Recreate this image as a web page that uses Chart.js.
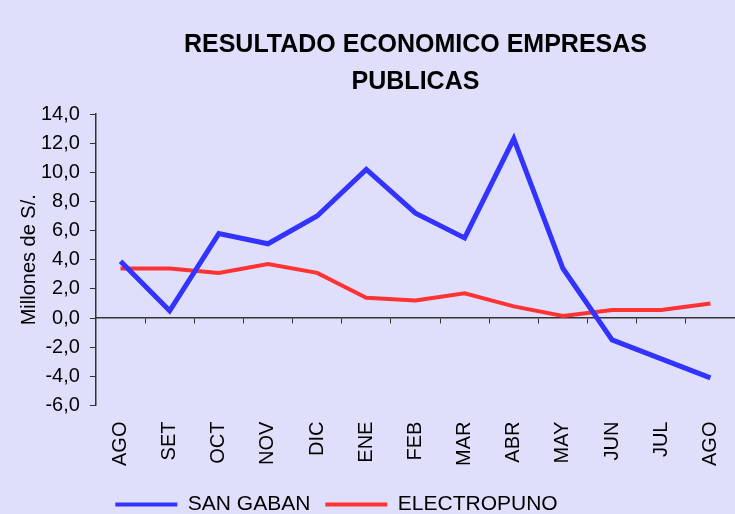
<!DOCTYPE html>
<html>
<head>
<meta charset="utf-8">
<script src="https://cdn.jsdelivr.net/npm/chart.js@4"></script>
<style>
	html, body { margin: 0; padding: 0; background: #dfdffb; overflow: hidden; }
	#wrap { width: 735px; height: 514px; }
</style>
</head>
<body>
<div id="wrap"><canvas id="canvasresultado" width="735" height="514"></canvas></div>
<script>

var meses = ['AGO', 'SET', 'OCT', 'NOV', 'DIC', 'ENE', 'FEB', 'MAR', 'ABR', 'MAY', 'JUN', 'JUL', 'AGO'];
var sangaban = [3.9, 0.5, 5.8, 5.1, 7.0, 10.2, 7.2, 5.5, 12.3, 3.4, -1.5, -2.8, -4.1];
var electropuno = [3.4, 3.4, 3.1, 3.7, 3.1, 1.4, 1.2, 1.7, 0.8, 0.15, 0.55, 0.55, 1.0];
var yticks = [14, 12, 10, 8, 6, 4, 2, 0, -2, -4, -6];

// corre la leyenda a la izquierda y abajo como en el original
var mover_leyenda = {
	id: 'mover_leyenda',
	afterLayout: function(chart){
		var l = chart.legend;
		if (l) {
			l.right = l.right - 62;
			l.top = l.top + 11;
			l.bottom = l.bottom + 11;
		}
	}
};

function sin_margen(scale){
	scale.paddingLeft = 0;
	scale.paddingRight = 0;
}

function init_chart_resultado(){

	if( typeof (Chart) === 'undefined'){ return; }

	var chart_line_settings = {
		type: 'line',
		data: {
			labels: meses,
			datasets: [{
				label: 'SAN GABAN',
				data: sangaban,
				borderColor: '#3333ff',
				backgroundColor: '#3333ff',
				borderWidth: 5,
				pointRadius: 0,
				tension: 0
			}, {
				label: 'ELECTROPUNO',
				data: electropuno,
				borderColor: '#ff3333',
				backgroundColor: '#ff3333',
				borderWidth: 4,
				pointRadius: 0,
				tension: 0
			}]
		},
		options: {
			responsive: false,
			animation: false,
			layout: { padding: { left: 0, right: 0, top: 0, bottom: 0 } },
			plugins: {
				title: {
					display: true,
					text: ['RESULTADO ECONOMICO EMPRESAS', 'PUBLICAS'],
					fullSize: false,
					color: '#000',
					font: { family: "'Liberation Sans', Arial, sans-serif", size: 25, weight: 'bold', lineHeight: 1.5 },
					padding: { top: 26, bottom: 13 }
				},
				legend: {
					position: 'bottom',
					labels: {
						boxWidth: 62,
						boxHeight: 4,
						padding: 15,
						color: '#000',
						font: { family: "'Liberation Sans Narrow', 'Liberation Sans', Arial, sans-serif", size: 21 },
						generateLabels: function(chart){
							var items = Chart.defaults.plugins.legend.labels.generateLabels(chart);
							items.forEach(function(it){ it.lineWidth = 0; });
							return items;
						}
					}
				},
				tooltip: { enabled: false }
			},
			scales: {
				x: {
					type: 'category',
					offset: true,
					afterFit: function(scale){
						sin_margen(scale);
						scale.height = scale.height - 14;
					},
					grid: { display: false, drawTicks: false },
					border: { display: false },
					ticks: {
						autoSkip: false,
						minRotation: 90,
						maxRotation: 90,
						padding: 16,
						color: '#000',
						font: { family: "'Liberation Sans', Arial, sans-serif", size: 20 }
					}
				},
				xcero: {
					type: 'category',
					labels: meses,
					position: { y: 0 },
					offset: true,
					afterFit: sin_margen,
					grid: { offset: true, drawOnChartArea: false, drawTicks: true, tickLength: 5, color: '#333' },
					border: { display: true, color: '#333', width: 1.5 },
					ticks: { display: false }
				},
				y: {
					min: -6,
					max: 14,
					afterBuildTicks: function(scale){
						scale.ticks = yticks.map(function(v){ return { value: v }; });
					},
					afterFit: function(scale){
						scale.width = scale.width - 10;
					},
					grid: { drawOnChartArea: false, drawTicks: true, tickLength: 6, color: '#333' },
					border: { display: true, color: '#333', width: 1.5 },
					title: {
						display: true,
						text: 'Millones de S/.',
						color: '#000',
						padding: { top: 17, bottom: 0 },
						font: { family: "'Liberation Sans', Arial, sans-serif", size: 20 }
					},
					ticks: {
						autoSkip: false,
						padding: 10,
						color: '#000',
						font: { family: "'Liberation Sans', Arial, sans-serif", size: 20 },
						callback: function(v){ return v.toFixed(1).replace('.', ','); }
					}
				}
			}
		},
		plugins: [mover_leyenda]
	};

	var chart_element = document.getElementById('canvasresultado');
	var chart_line = new Chart(chart_element, chart_line_settings);
}

init_chart_resultado();
</script>
</body>
</html>
